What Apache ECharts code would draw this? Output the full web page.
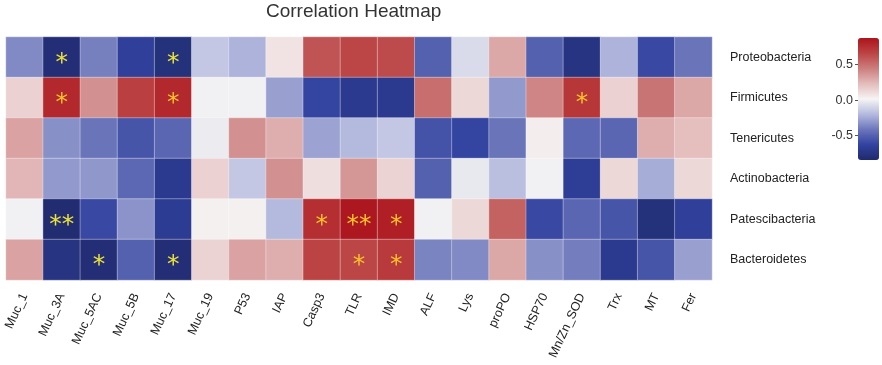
<!DOCTYPE html>
<html>
<head>
<meta charset="utf-8">
<script src="https://cdn.jsdelivr.net/npm/echarts@6/dist/echarts.min.js"></script>
<style>html,body{margin:0;padding:0;background:#fff}#c{width:882px;height:365px}</style>
</head>
<body>
<div id="c"></div>
<script>
const genes = ['Muc_1','Muc_3A','Muc_5AC','Muc_5B','Muc_17','Muc_19','P53','IAP','Casp3','TLR','IMD','ALF','Lys','proPO','HSP70','Mn/Zn_SOD','Trx','MT','Fer'];
const phyla = ['Proteobacteria','Firmicutes','Tenericutes','Actinobacteria','Patescibacteria','Bacteroidetes'];

const proteobacteria  = [-0.35,-0.80,-0.38,-0.65,-0.78,-0.15,-0.22, 0.08, 0.60, 0.65, 0.63,-0.50,-0.08, 0.30,-0.50,-0.75,-0.22,-0.60,-0.42];
const firmicutes      = [ 0.15, 0.78, 0.38, 0.68, 0.78, 0.00, 0.00,-0.28,-0.62,-0.70,-0.70, 0.50, 0.12,-0.30, 0.42, 0.72, 0.15, 0.48, 0.30];
const tenericutes     = [ 0.32,-0.33,-0.42,-0.55,-0.48,-0.02, 0.38, 0.28,-0.27,-0.20,-0.15,-0.56,-0.62,-0.42, 0.04,-0.47,-0.48, 0.28, 0.22];
const actinobacteria  = [ 0.25,-0.30,-0.31,-0.47,-0.70, 0.15,-0.15, 0.38, 0.10, 0.36, 0.14,-0.50,-0.03,-0.18, 0.00,-0.67, 0.12,-0.24, 0.12];
const patescibacteria = [ 0.00,-0.82,-0.60,-0.32,-0.68, 0.03, 0.03,-0.20, 0.75, 0.85, 0.82, 0.00, 0.12, 0.55,-0.60,-0.48,-0.55,-0.78,-0.65];
const bacteroidetes   = [ 0.32,-0.75,-0.80,-0.50,-0.80, 0.14, 0.32, 0.28, 0.66, 0.65, 0.70,-0.37,-0.35, 0.30,-0.33,-0.39,-0.70,-0.55,-0.28];

const starsProteobacteria  = ['','*','','','*','','','','','','','','','','','','','',''];
const starsFirmicutes      = ['','*','','','*','','','','','','','','','','','*','','',''];
const starsTenericutes     = ['','','','','','','','','','','','','','','','','','',''];
const starsActinobacteria  = ['','','','','','','','','','','','','','','','','','',''];
const starsPatescibacteria = ['','**','','','','','','','*','**','*','','','','','','','',''];
const starsBacteroidetes   = ['','','*','','*','','','','','*','*','','','','','','','',''];

const colorbarTicks = [-0.5, 0, 0.5];
const scaleMin = -0.84, scaleMax = 0.87;

const rows = [proteobacteria, firmicutes, tenericutes, actinobacteria, patescibacteria, bacteroidetes];
const starRows = [starsProteobacteria, starsFirmicutes, starsTenericutes, starsActinobacteria, starsPatescibacteria, starsBacteroidetes];
const data = [];
rows.forEach((r, yi) => r.forEach((v, xi) => data.push({
  value: [xi, yi, v], star: starRows[yi][xi],
  label: {color: v > 0 ? '#f7c22c' : '#ece23a'}
})));

const chart = echarts.init(document.getElementById('c'));
const font = 'Liberation Sans, Arial, sans-serif';
chart.setOption({
  animation: false,
  backgroundColor: '#fff',
  title: {text: 'Correlation Heatmap', left: 266, top: 2, padding: 0,
    textStyle: {fontFamily: font, fontSize: 19, fontWeight: 'normal', color: '#333'}},
  grid: [
    {left: 6, top: 37, width: 706, height: 243},
    {left: 858, top: 38, width: 21, height: 122}
  ],
  xAxis: [
    {type: 'category', data: genes, gridIndex: 0,
      axisLine: {show: false}, axisTick: {show: false}, splitLine: {show: false},
      axisLabel: {rotate: 65, interval: 0, margin: 14, fontFamily: font, fontSize: 12.5, color: '#222'}},
    {type: 'value', gridIndex: 1, show: false, min: 0, max: 1}
  ],
  yAxis: [
    {type: 'category', data: phyla, inverse: true, position: 'right', gridIndex: 0,
      axisLine: {show: false}, axisTick: {show: false}, splitLine: {show: false},
      axisLabel: {margin: 18, fontFamily: font, fontSize: 12.5, color: '#222'}},
    {type: 'value', gridIndex: 1, min: scaleMin, max: scaleMax, position: 'left',
      axisLine: {show: false}, splitLine: {show: false},
      axisTick: {show: true, length: 3, customValues: colorbarTicks, lineStyle: {color: '#555'}},
      axisLabel: {customValues: colorbarTicks, margin: 5, fontFamily: font, fontSize: 12.5, color: '#333',
        formatter: v => v.toFixed(1)}}
  ],
  visualMap: {
    type: 'continuous', min: scaleMin, max: scaleMax, calculable: false,
    left: 858, top: 38, itemWidth: 21, itemHeight: 122, padding: 0,
    text: null, showLabel: false, seriesIndex: 0, hoverLink: false,
    inRange: {color: ['#1f2a6c','#3242a0','#6c76ba','#b4bade','#f6f4f4','#e4bcbc','#cc7e7e','#bc4444','#ab141c']}
  },
  series: [{
    type: 'heatmap', xAxisIndex: 0, yAxisIndex: 0, data: data,
    itemStyle: {borderColor: 'rgba(255,255,255,0.6)', borderWidth: 0.6},
    label: {show: true, formatter: p => p.data.star, fontSize: 25,
      fontFamily: 'DejaVu Sans', offset: [0, 6]}
  }]
});
</script>
</body>
</html>
